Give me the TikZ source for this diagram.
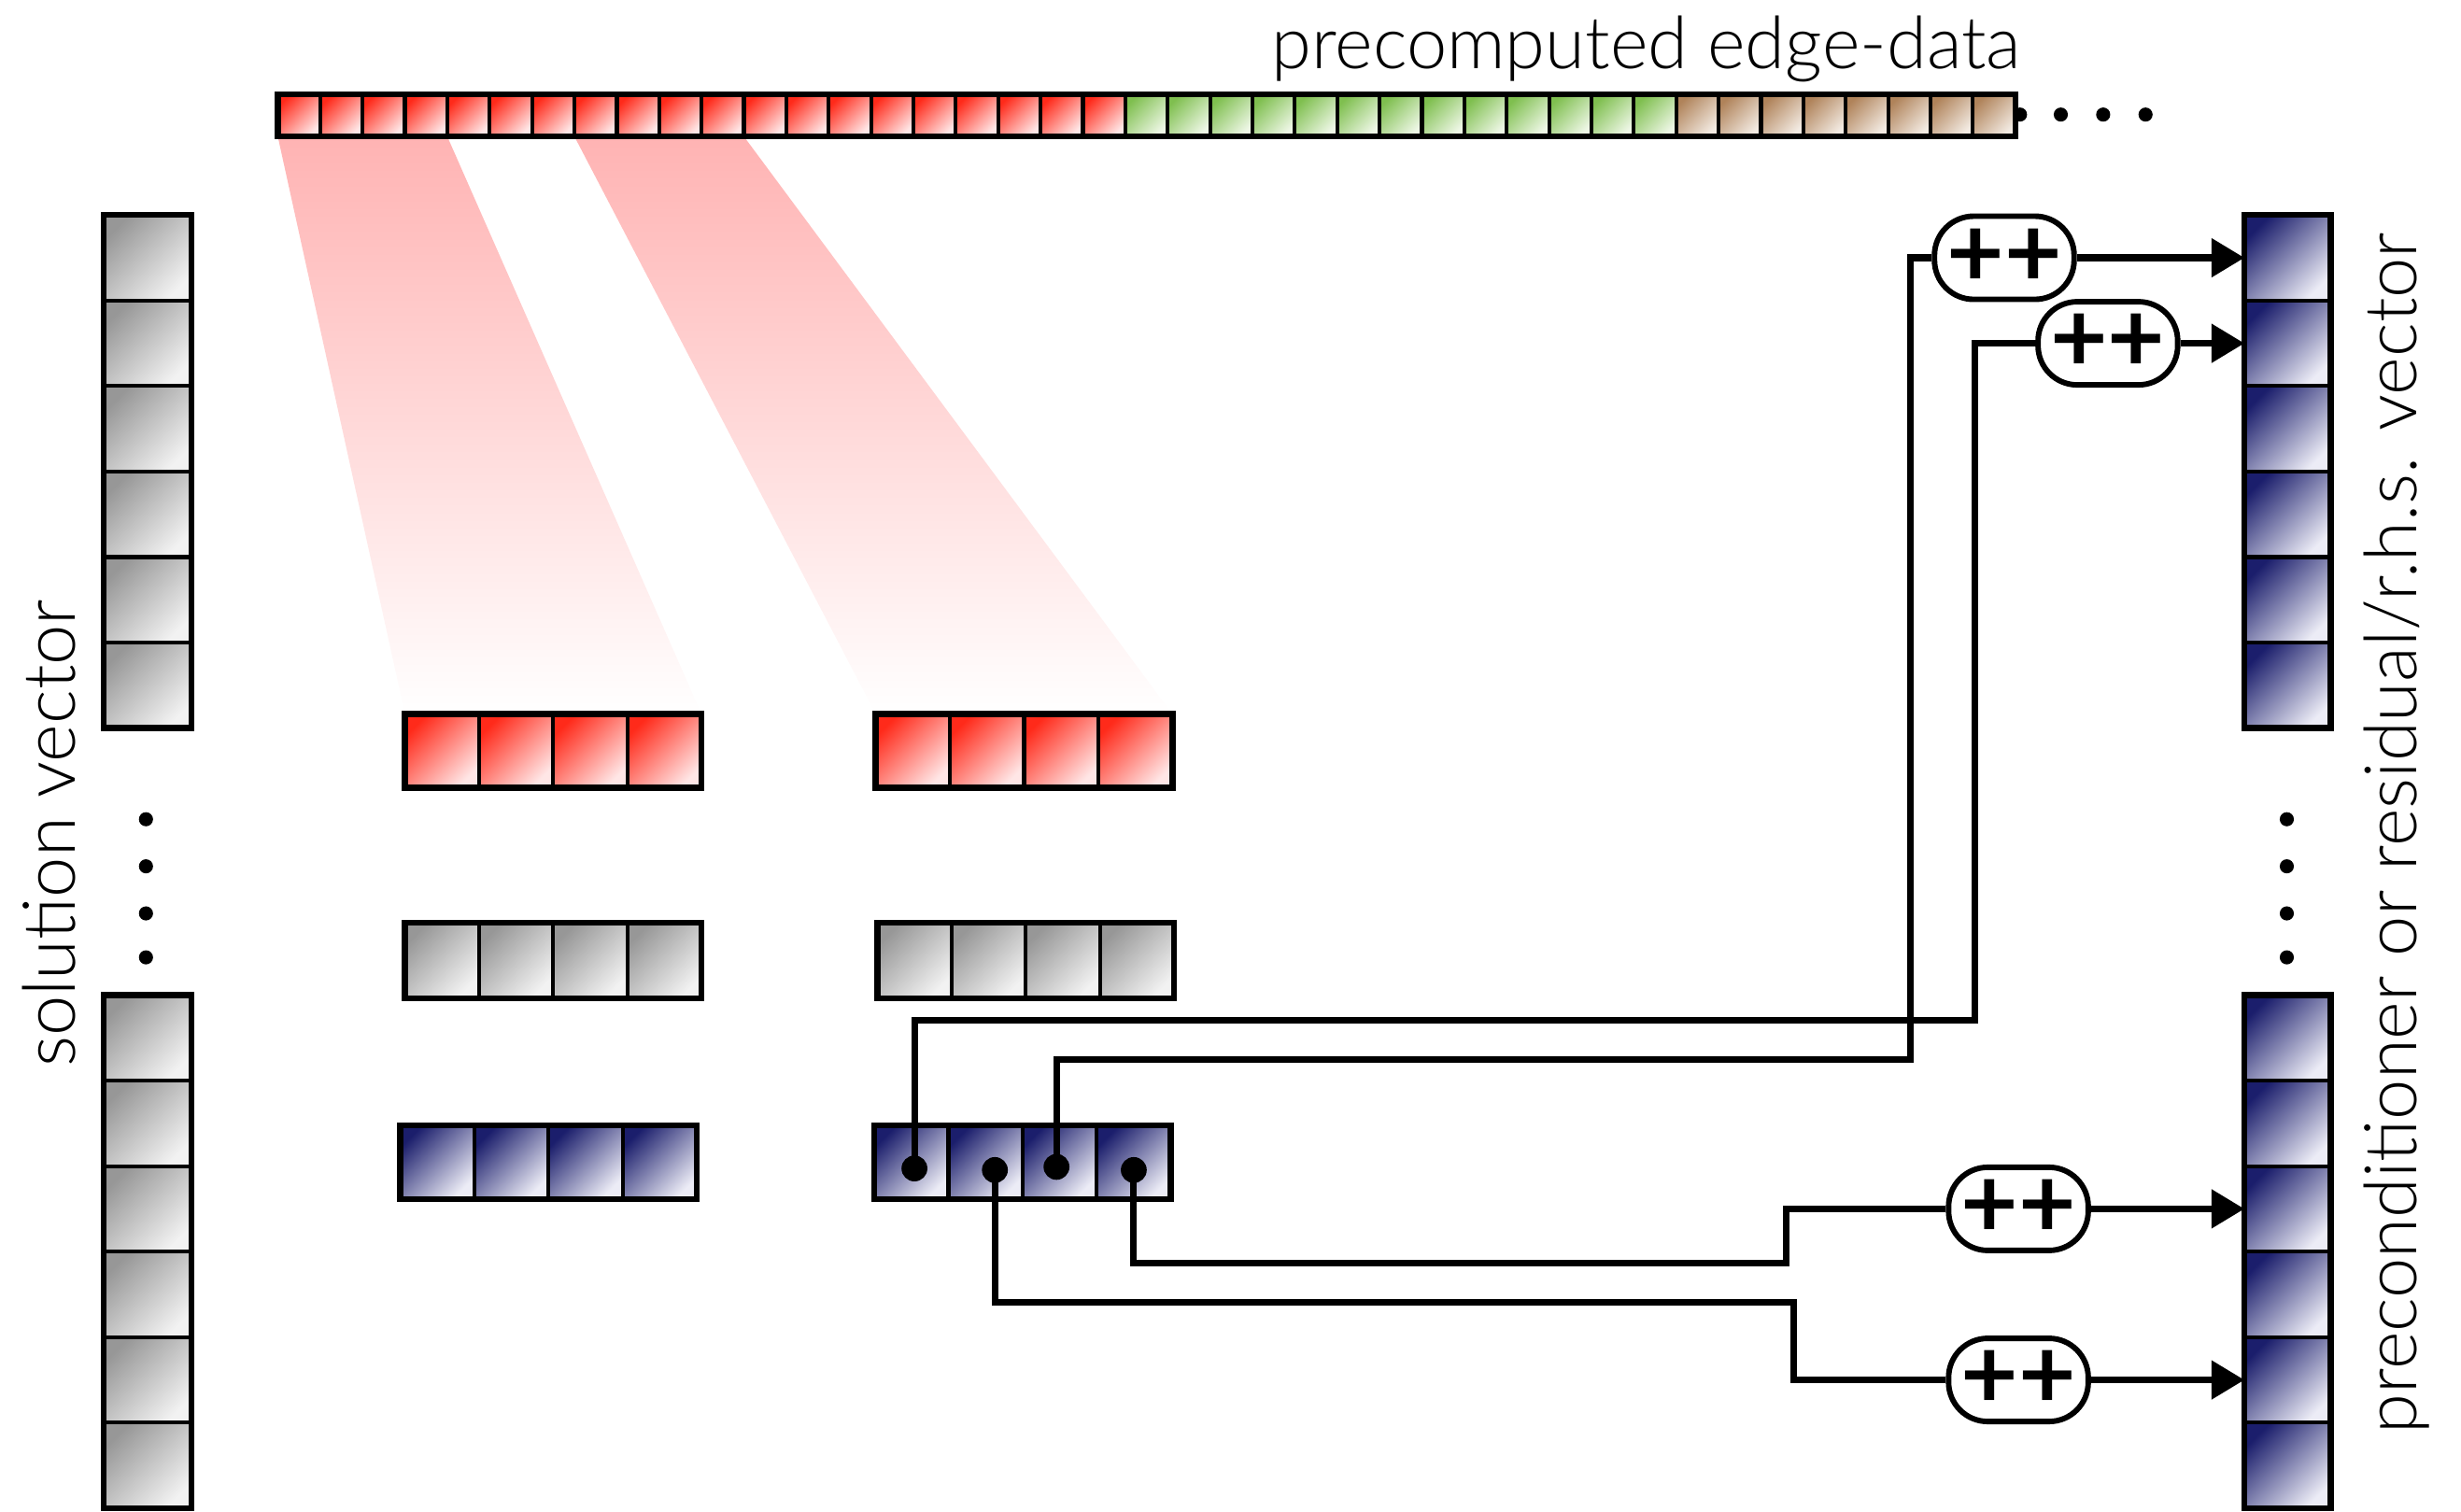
\documentclass[tikz,border=0pt]{standalone}
\usepackage{fontspec}
\setmainfont{Lato}[UprightFont=* Light, BoldFont=* Bold]
\usetikzlibrary{arrows.meta,backgrounds}

\definecolor{redhi}{HTML}{FF2A1A}
\definecolor{redlo}{HTML}{FFE6E6}
\definecolor{greenhi}{HTML}{7FBF4F}
\definecolor{greenlo}{HTML}{EEF7E6}
\definecolor{tanhi}{HTML}{B0835A}
\definecolor{tanlo}{HTML}{F3EBE3}
\definecolor{grayhi}{HTML}{979797}
\definecolor{graylo}{HTML}{F2F2F2}
\definecolor{bluehi}{HTML}{1B1E6C}
\definecolor{bluelo}{HTML}{ECECF6}
\definecolor{beampink}{HTML}{FFB3B3}

\tikzset{
  cellbox/.style={draw=black, line width=1.4pt, inner sep=0pt, outer sep=0pt, anchor=north west},
  grad/.style 2 args={top color=#1, bottom color=#2, shading angle=45},
  rim/.style={draw=black, line width=2.2pt},
  wire/.style={draw=black, line width=2.4pt},
  pp/.style={draw=black, fill=white, line width=2pt, rounded corners=5mm,
    minimum width=17.8mm, minimum height=10.6mm, inner sep=0pt,
    font=\fontsize{36}{36}\selectfont\bfseries},
  arr/.style={wire, -{Triangle[length=4.2mm, width=4.8mm]}},
  tap/.style={circle, fill=black, inner sep=0pt, minimum size=3.3mm},
  ell/.style={circle, fill=black, inner sep=0pt, minimum size=1.8mm},
  lbl/.style={font=\fontsize{26.3}{27}\selectfont, inner sep=0pt},
}

% a horizontal row of cells: name, x, y, count, width, height, dark, light
\newcommand\cellrow[8]{%
  \foreach \i in {1,...,#4}{%
    \node[cellbox, grad={#7}{#8}, minimum width=#5*0.2mm, minimum height=#6*0.2mm]
      (#1-\i) at ({#2+(\i-1)*#5},#3) {};
  }
  \draw[rim] (#1-1.north west) rectangle (#1-#4.south east);
}
% a vertical column of cells: name, x, y, count, width, height, dark, light
\newcommand\cellcol[8]{%
  \foreach \i in {1,...,#4}{%
    \node[cellbox, grad={#7}{#8}, minimum width=#5*0.2mm, minimum height=#6*0.2mm]
      (#1-\i) at (#2,{#3+(\i-1)*#6}) {};
  }
  \draw[rim] (#1-1.north west) rectangle (#1-#4.south east);
}

\begin{document}
\begin{tikzpicture}[x=0.02cm, y=-0.02cm]
\useasboundingbox (0,0) rectangle (1568,963);

% trailing dots of the edge-data array
\foreach \k/\xx in {1/1287,2/1313,3/1340,4/1367}
  \node[ell] (hdot\k) at (\xx,73) {};

% precomputed edge-data array
\foreach \i in {1,...,20}
  \node[cellbox, grad={redhi}{redlo}, minimum width=5.4mm, minimum height=5.4mm]
    (bar-\i) at ({177+(\i-1)*27},60) {};
\foreach \i in {21,...,33}
  \node[cellbox, grad={greenhi}{greenlo}, minimum width=5.4mm, minimum height=5.4mm]
    (bar-\i) at ({177+(\i-1)*27},60) {};
\foreach \i in {34,...,41}
  \node[cellbox, grad={tanhi}{tanlo}, minimum width=5.4mm, minimum height=5.4mm]
    (bar-\i) at ({177+(\i-1)*27},60) {};
\draw[rim] (bar-1.north west) rectangle (bar-41.south east);

\node[lbl, anchor=base east] (title) at (1288,44) {precomputed edge-data};

% local copies of edge data, solution values and results
\cellrow{ra}{258}{455}{4}{47.25}{47}{redhi}{redlo}
\cellrow{rb}{558}{455}{4}{47.25}{47}{redhi}{redlo}
\cellrow{ga}{258}{588}{4}{47.25}{48}{grayhi}{graylo}
\cellrow{gb}{559}{588}{4}{47.25}{48}{grayhi}{graylo}
\cellrow{ba}{255}{717}{4}{47.25}{47}{bluehi}{bluelo}
\cellrow{bb}{557}{717}{4}{47.25}{47}{bluehi}{bluelo}

% loads from the edge-data array
\begin{pgfonlayer}{background}
  \shade[top color=beampink, bottom color=white]
    (bar-1.south west) -- (bar-4.south east) -- (ra-4.north east) -- (ra-1.north west) -- cycle;
  \shade[top color=beampink, bottom color=white]
    (bar-8.south west) -- (bar-11.south east) -- (rb-4.north east) -- (rb-1.north west) -- cycle;
\end{pgfonlayer}

% solution vector
\cellcol{st}{66}{137}{6}{56}{54.5}{grayhi}{graylo}
\cellcol{sb}{66}{634}{6}{56}{54.5}{grayhi}{graylo}
\foreach \k/\yy in {1/522,2/552,3/582,4/610}
  \node[ell] (ldot\k) at (93,\yy) {};
\node[lbl, rotate=90, anchor=base] (sollbl) at (48,531) {solution vector};

% result vector
\cellcol{rt}{1430}{137}{6}{55}{54.5}{bluehi}{bluelo}
\cellcol{rs}{1430}{634}{6}{55}{54.5}{bluehi}{bluelo}
\foreach \k/\yy in {1/522,2/552,3/582,4/610}
  \node[ell] (rdot\k) at (1457,\yy) {};
\node[lbl, rotate=90, anchor=base] (reslbl) at (1540,531)
  {preconditioner or residual/r.h.s. vector};

% accumulation operators
\node[pp] (pp1) at (1277,164.25) {++};
\node[pp] (pp2) at (1343,218.75) {++};
\node[pp] (pp3) at (1286,770.25) {++};
\node[pp] (pp4) at (1286,879.25) {++};

% read taps in the result block
\node[tap] (t1) at ([shift={(2,4)}]bb-1.center) {};
\node[tap] (t2) at ([shift={(6,5)}]bb-2.center) {};
\node[tap] (t3) at ([shift={(-2,3)}]bb-3.center) {};
\node[tap] (t4) at ([shift={(0,5)}]bb-4.center) {};

% routing corners
\coordinate (jA) at (1258,650);
\coordinate (jB) at (1217,675);
\coordinate (jC) at (1138,805);
\coordinate (jD) at (1143,830);

\draw[wire] (t1.center) |- (jA) |- (pp2.west);
\draw[wire] (t3.center) |- (jB) |- (pp1.west);
\draw[wire] (t4.center) |- (jC) |- (pp3.west);
\draw[wire] (t2.center) |- (jD) |- (pp4.west);

\draw[arr] (pp1.east) -- (pp1.east -| rt-1.west);
\draw[arr] (pp2.east) -- (pp2.east -| rt-2.west);
\draw[arr] (pp3.east) -- (pp3.east -| rs-3.west);
\draw[arr] (pp4.east) -- (pp4.east -| rs-5.west);
\end{tikzpicture}
\end{document}
